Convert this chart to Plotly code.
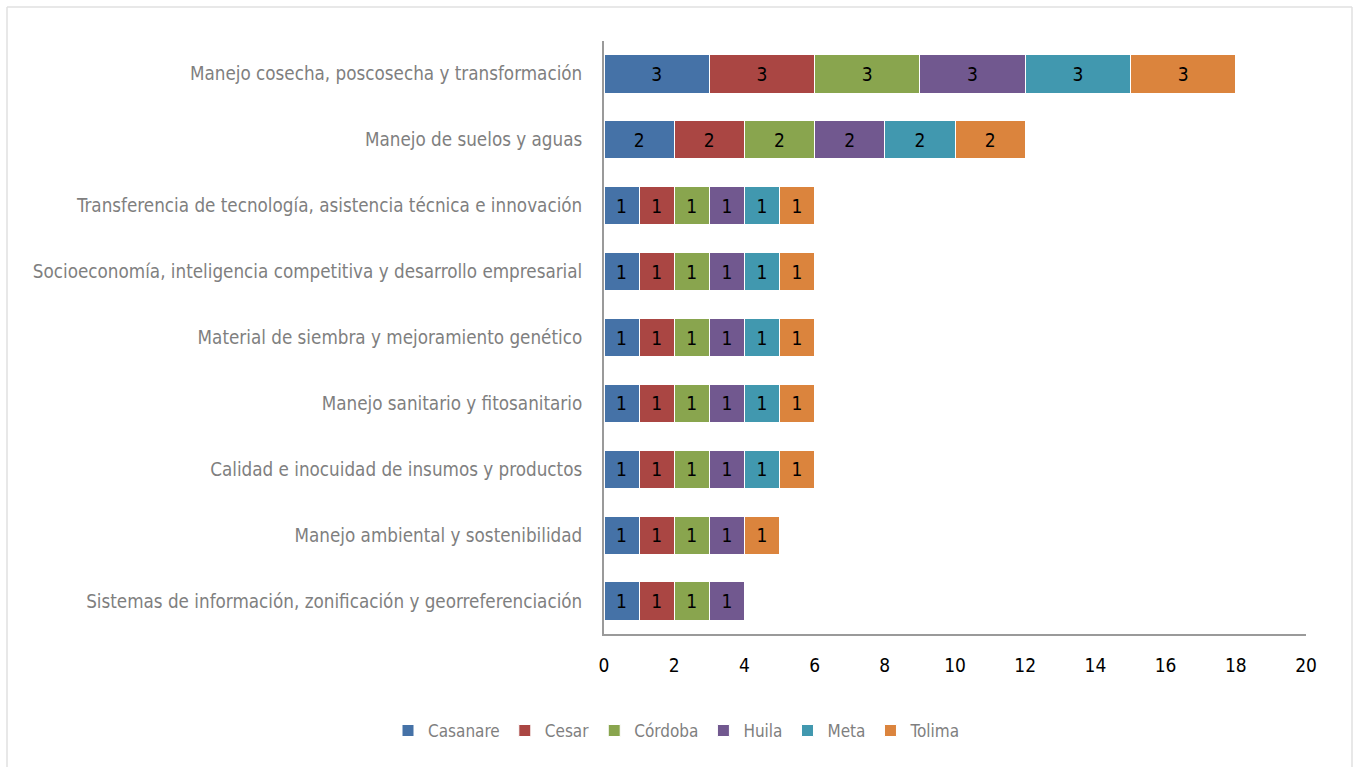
import plotly.graph_objects as go

categories = [
    "Manejo cosecha, poscosecha y transformación",
    "Manejo de suelos y aguas",
    "Transferencia de tecnología, asistencia técnica e innovación",
    "Socioeconomía, inteligencia competitiva y desarrollo empresarial",
    "Material de siembra y mejoramiento genético",
    "Manejo sanitario y fitosanitario",
    "Calidad e inocuidad de insumos y productos",
    "Manejo ambiental y sostenibilidad",
    "Sistemas de información, zonificación y georreferenciación",
]

casanare = [3, 2, 1, 1, 1, 1, 1, 1, 1]
cesar = [3, 2, 1, 1, 1, 1, 1, 1, 1]
cordoba = [3, 2, 1, 1, 1, 1, 1, 1, 1]
huila = [3, 2, 1, 1, 1, 1, 1, 1, 1]
meta = [3, 2, 1, 1, 1, 1, 1, None, None]
tolima = [3, 2, 1, 1, 1, 1, 1, 1, None]

series_names = ["Casanare", "Cesar", "Córdoba", "Huila", "Meta", "Tolima"]
series_values = [casanare, cesar, cordoba, huila, meta, tolima]
colors = ["#4572A7", "#AA4643", "#89A54E", "#71588F", "#4198AF", "#DB843D"]

x_ticks = [0, 2, 4, 6, 8, 10, 12, 14, 16, 18, 20]

FONT = "DejaVu Sans Condensed, Liberation Sans Narrow, sans-serif"

fig = go.Figure()
for name, vals, col in zip(series_names, series_values, colors):
    fig.add_trace(go.Bar(
        y=categories, x=vals, name=name, orientation="h",
        marker=dict(color=col, line=dict(color="white", width=1)),
        text=[("" if v is None else str(v)) for v in vals],
        textposition="inside", insidetextanchor="middle", textangle=0,
        textfont=dict(color="black", size=19, family=FONT),
        hoverinfo="x+y+name",
    ))

T, B = 41, 133
H = 767 - T - B
W = 1354 - 604 - 48


def px_x(v):
    return (v - 604) / W


def px_y(v):
    return (767 - B - v) / H


border = dict(color="#e0e0e0", width=1.5)
fig.update_layout(
    barmode="stack",
    bargap=0.42,
    width=1354, height=767,
    paper_bgcolor="white", plot_bgcolor="white",
    margin=dict(l=604, r=48, t=T, b=B, autoexpand=False),
    font=dict(family=FONT, size=18.7, color="#7f7f7f"),
    xaxis=dict(
        range=[0, 20], tickvals=x_ticks, showgrid=False, zeroline=False,
        showline=True, linecolor="#9a9a9a", linewidth=2,
        ticks="", tickfont=dict(color="black", size=19, family=FONT),
        ticklabelstandoff=13,
    ),
    yaxis=dict(
        autorange="reversed", showgrid=False, showline=True,
        linecolor="#9a9a9a", linewidth=2, ticks="",
        tickfont=dict(color="#7f7f7f", size=18.7, family=FONT),
        ticklabelstandoff=16,
    ),
    legend=dict(
        orientation="h", xref="container", yref="container",
        x=0.5, xanchor="center", y=0.047, yanchor="middle",
        font=dict(color="#7f7f7f", size=17, family=FONT),
        itemwidth=30, traceorder="normal",
    ),
    shapes=[
        dict(type="line", xref="paper", yref="paper", layer="below",
             x0=px_x(7), x1=px_x(1352), y0=px_y(7), y1=px_y(7), line=border),
        dict(type="line", xref="paper", yref="paper", layer="below",
             x0=px_x(7), x1=px_x(7), y0=px_y(7), y1=px_y(780), line=border),
        dict(type="line", xref="paper", yref="paper", layer="below",
             x0=px_x(1352), x1=px_x(1352), y0=px_y(7), y1=px_y(780), line=border),
    ],
)

fig.write_html("out.html", post_script="document.body.style.margin='0';",
               config={"displayModeBar": False})
